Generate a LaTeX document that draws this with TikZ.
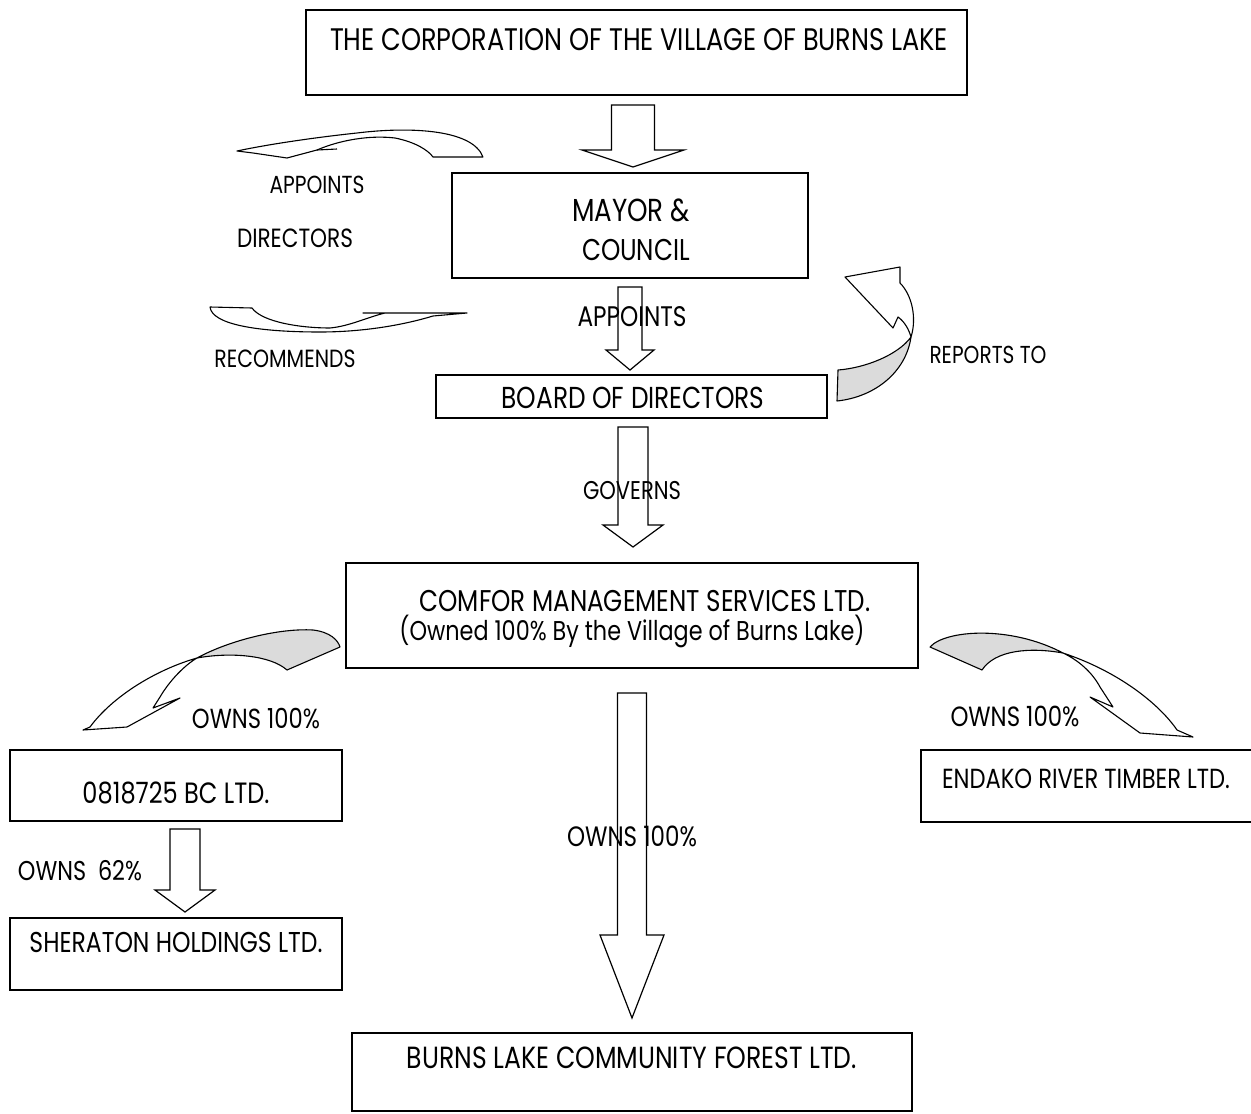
\documentclass[tikz,border=0pt]{standalone}
\usepackage{fontspec}
\setmainfont{Poppins}[FakeStretch=0.82]
\usepackage{graphicx}
\usetikzlibrary{fit}
\newlength\pxu
\setlength\pxu{0.5pt}
\newcommand\tx[2]{\resizebox{#1\pxu}{!}{#2}}
\newcommand\blockdown[6]{%
  \draw[blockarrow] (#1-#2,#3) -- (#1+#2,#3) -- (#1+#2,#4) -- (#1+#5,#4) -- (#1,#6) -- (#1-#5,#4) -- (#1-#2,#4) -- cycle;}
\tikzset{
  box/.style={draw=black, line width=0.9pt, inner sep=0pt},
  lbl/.style={inner sep=0pt, anchor=center, text=black},
  blockarrow/.style={draw=black, line width=0.6pt, fill=white, line join=miter},
  curvearrow/.style={draw=black, line width=0.55pt, fill=white, line join=round},
  grayarrow/.style={draw=black, line width=0.55pt, fill=gray!28, line join=round}
}
\begin{document}
\begin{tikzpicture}[x=0.5pt,y=-0.5pt]
\useasboundingbox (0,0) rectangle (1251,1113);
\fill[white] (0,0) rectangle (1251,1113);

% ---------- boxes ----------
\coordinate (t1) at (306,10);   \coordinate (t2) at (967,95);
\node[box, fit=(t1)(t2)] (top) {};
\coordinate (m1) at (452,173);  \coordinate (m2) at (808,278);
\node[box, fit=(m1)(m2)] (mayor) {};
\coordinate (b1) at (436,375);  \coordinate (b2) at (827,418);
\node[box, fit=(b1)(b2)] (board) {};
\coordinate (c1) at (346,563);  \coordinate (c2) at (918,668);
\node[box, fit=(c1)(c2)] (comfor) {};
\coordinate (bc1) at (10,750);  \coordinate (bc2) at (342,821);
\node[box, fit=(bc1)(bc2)] (bc) {};
\coordinate (e1) at (921,750);  \coordinate (e2) at (1256,822);
\node[box, fit=(e1)(e2)] (endako) {};
\coordinate (s1) at (10,918);   \coordinate (s2) at (342,990);
\node[box, fit=(s1)(s2)] (sheraton) {};
\coordinate (f1) at (352,1033); \coordinate (f2) at (912,1111);
\node[box, fit=(f1)(f2)] (forest) {};

% ---------- block arrows ----------
\blockdown{633}{21.5}{105}{150}{51}{167}
\blockdown{630}{12}{287}{350}{24}{370}
\blockdown{633}{15}{427}{525}{30}{547}
\blockdown{632}{14.5}{693}{935}{32}{1018}
\blockdown{185}{15}{829}{890}{30}{912}

% ---------- curved arrows ----------
% appoints (top left, pointing left)
\draw[curvearrow] (483,157) .. controls (472,128) and (405,127) .. (357,133)
  .. controls (310,138) and (265,145) .. (237,151) -- (253,153) -- (287,158) -- (317,150)
  .. controls (340,140) and (370,135) .. (395,138) .. controls (415,142) and (428,150) .. (433,157) -- cycle;
\draw[line width=0.55pt] (317,150) -- (337,149);
% recommends (bottom left, pointing right)
\draw[curvearrow] (210,307) -- (252,308) .. controls (262,322) and (300,328) .. (330,328)
  .. controls (350,326) and (365,318) .. (385,313) -- (363,313) -- (467,313) -- (433,316)
  .. controls (400,326) and (360,332) .. (320,332) .. controls (260,332) and (212,325) .. (210,307) -- cycle;
% reports to
\draw[grayarrow] (837,401) -- (838,370) .. controls (865,368) and (898,355) .. (911,337)
  .. controls (906,372) and (875,397) .. (837,401) -- cycle;
\draw[curvearrow] (911,337) .. controls (917,318) and (912,295) .. (900,283) -- (900,267) -- (845,277)
  -- (893,328) -- (898,317) .. controls (905,322) and (909,330) .. (911,337) -- cycle;
% owns 100% left
\draw[grayarrow] (197,658) .. controls (230,640) and (280,628) .. (313,630)
  .. controls (330,632) and (338,640) .. (340,647) -- (287,670)
  .. controls (270,655) and (230,652) .. (197,658) -- cycle;
\draw[curvearrow] (197,658) .. controls (155,670) and (112,697) .. (90,727) -- (83,730) -- (127,727)
  -- (180,698) -- (153,708) -- (160,697) .. controls (170,680) and (185,665) .. (197,658) -- cycle;
% owns 100% right
\draw[grayarrow] (930,647) .. controls (945,630) and (1010,625) .. (1063,653)
  .. controls (1030,647) and (995,650) .. (982,670) -- cycle;
\draw[curvearrow] (1063,653) .. controls (1120,672) and (1160,705) .. (1177,730) -- (1193,737) -- (1140,733)
  -- (1090,697) -- (1113,707) -- (1100,687) .. controls (1092,672) and (1078,660) .. (1063,653) -- cycle;

% ---------- texts ----------
\node[lbl] (ttop) at (639,40) {\tx{618}{THE CORPORATION OF THE VILLAGE OF BURNS LAKE}};
\node[lbl] (tm1) at (631,210) {\tx{118}{MAYOR \&}};
\node[lbl] (tm2) at (636,250) {\tx{108}{COUNCIL}};
\node[lbl] (tapp) at (632,317) {\tx{109}{APPOINTS}};
\node[lbl] (tboard) at (633,398) {\tx{263}{BOARD OF DIRECTORS}};
\node[lbl] (tgov) at (632,491) {\tx{98}{GOVERNS}};
\node[lbl] (tc1) at (645,601) {\tx{451}{COMFOR MANAGEMENT SERVICES LTD.}};
\node[inner sep=0pt, anchor=base] (tc2) at (632,640) {\tx{465}{(Owned 100\% By the Village of Burns Lake)}};
\node[lbl] (towl) at (256,719) {\tx{128}{OWNS 100\%}};
\node[lbl] (towr) at (1015,716) {\tx{129}{OWNS 100\%}};
\node[lbl] (tbc) at (176,793) {\tx{187}{0818725 BC LTD.}};
\node[lbl] (tend) at (1086,779) {\tx{288}{ENDAKO RIVER TIMBER LTD.}};
\node[lbl] (towc) at (632,836) {\tx{130}{OWNS 100\%}};
\node[lbl] (tow62) at (80,871) {\tx{124}{OWNS~~62\%}};
\node[lbl] (tsh) at (176,942) {\tx{293}{SHERATON HOLDINGS LTD.}};
\node[lbl] (tfor) at (632,1058) {\tx{450}{BURNS LAKE COMMUNITY FOREST LTD.}};
\node[lbl] (tappl) at (317,185) {\tx{95}{APPOINTS}};
\node[lbl] (tdir) at (295,238) {\tx{116}{DIRECTORS}};
\node[lbl] (trec) at (285,359) {\tx{141}{RECOMMENDS}};
\node[lbl] (trep) at (988,355) {\tx{117}{REPORTS TO}};
\end{tikzpicture}
\end{document}
